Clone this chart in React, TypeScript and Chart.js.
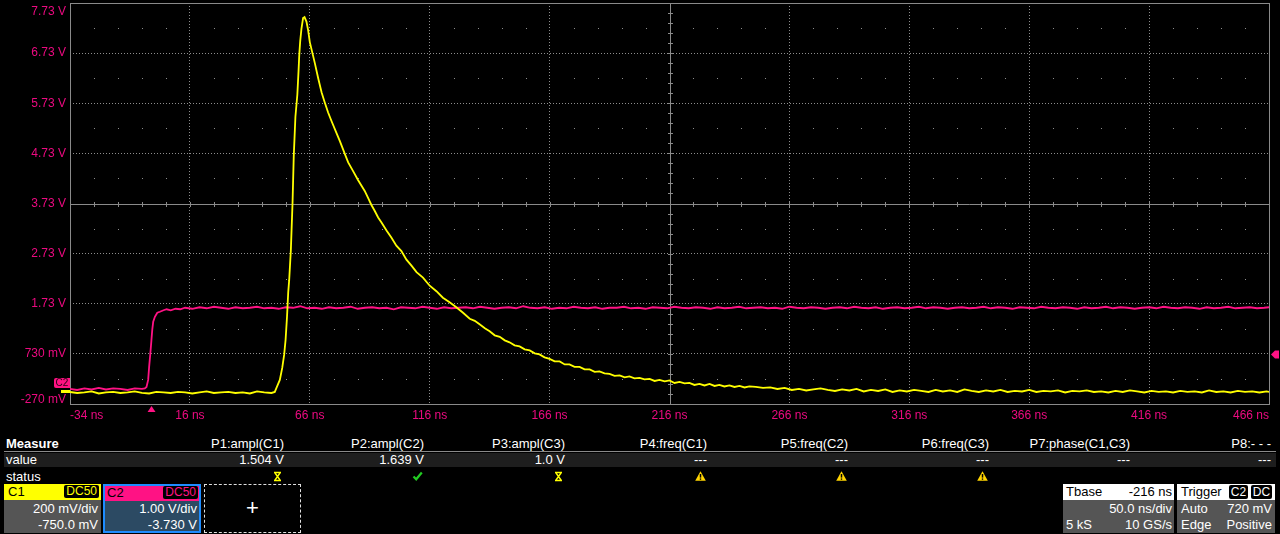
import React, { useEffect, useRef } from 'react';
import { Chart, registerables } from 'chart.js';

Chart.register(...registerables);

// ---------------- data ----------------
const xTickValues = [-34, 16, 66, 116, 166, 216, 266, 316, 366, 416, 466];
const xTickLabels = ['-34 ns', '16 ns', '66 ns', '116 ns', '166 ns', '216 ns', '266 ns', '316 ns', '366 ns', '416 ns', '466 ns'];
const yTickValues = [-0.27, 0.73, 1.73, 2.73, 3.73, 4.73, 5.73, 6.73, 7.73];
const yTickLabels = ['-270 mV', '730 mV', '1.73 V', '2.73 V', '3.73 V', '4.73 V', '5.73 V', '6.73 V', '7.73 V'];

const TRIGGER_TIME = 0; // ns
const TRIGGER_LEVEL = 0.72; // V
const C1_GROUND = -0.02;
const C2_GROUND = 0;

// C1 (yellow) samples: [time ns, volts on displayed scale]
const c1Samples: [number, number][] = [
  [-34, -0.03], [-31, -0.05], [-28, -0.04], [-25, -0.02], [-22, -0.06], [-19, -0.04], [-16, -0.03], [-13, -0.05],
  [-10, -0.04], [-7, -0.02], [-4, -0.05], [-1, -0.06], [2, -0.03], [5, -0.04], [8, -0.05], [11, -0.03], [14, -0.04],
  [17, -0.06], [20, -0.04], [23, -0.02], [26, -0.05], [29, -0.04], [32, -0.03], [35, -0.05], [38, -0.04], [41, -0.06],
  [44, -0.02], [47, -0.04], [50, -0.05],
  [51.4, -0.03], [52.1, 0.05], [53.5, 0.21], [54.5, 0.45], [55.3, 0.71], [55.9, 1.01], [56.5, 1.47], [57.0, 1.96],
  [57.4, 2.2], [58.1, 2.8], [58.8, 3.74], [59.3, 4.66], [60.0, 5.46], [60.8, 5.9], [61.3, 6.37], [61.6, 6.69],
  [62.0, 6.97], [62.5, 7.21], [63.2, 7.43], [63.8, 7.45], [64.6, 7.36], [65.3, 7.19], [66.0, 6.95], [67.1, 6.73],
  [68.1, 6.53], [69.5, 6.23], [70.9, 5.95], [72.0, 5.78], [73.6, 5.55], [75.0, 5.38], [77.1, 5.14], [78.5, 4.98],
  [80.6, 4.72], [82.0, 4.55], [84.0, 4.38], [86.1, 4.2], [87.5, 4.09], [88.9, 3.98], [90.3, 3.84], [91.7, 3.7],
  [93.1, 3.58], [94.5, 3.45], [95.9, 3.35], [98.0, 3.19], [100.0, 3.05], [102.1, 2.89], [104.2, 2.78], [106.3, 2.61],
  [108.4, 2.49], [110.5, 2.36], [113.2, 2.25], [116.0, 2.09], [118.8, 1.98], [121.5, 1.85], [124.3, 1.76], [127.1, 1.66],
  [129.9, 1.55], [132.7, 1.43], [134.8, 1.39], [136.8, 1.32], [139, 1.24], [141.0, 1.18], [143.1, 1.1], [145.2, 1.07],
  [147.3, 1.0], [149.3, 0.96], [151.4, 0.9], [153.5, 0.88], [155.6, 0.82], [157.7, 0.8], [159.8, 0.74], [161.8, 0.72],
  [163.9, 0.66], [166.0, 0.63], [168.1, 0.58], [170.2, 0.58], [172.3, 0.52], [174.3, 0.52], [176.4, 0.47], [178.5, 0.47],
  [180.6, 0.42], [182.7, 0.42], [184.8, 0.37], [186.8, 0.38], [188.9, 0.34], [191.0, 0.33], [193.1, 0.29], [195.2, 0.3],
  [197.3, 0.26], [199.3, 0.28], [201.4, 0.24], [203.5, 0.25], [205.6, 0.22], [207.7, 0.23], [209.8, 0.19], [211.8, 0.21],
  [214, 0.18], [216.0, 0.2], [218.1, 0.15], [220.2, 0.17], [222.3, 0.14], [224.3, 0.15], [226.4, 0.11], [228.5, 0.13],
  [230.6, 0.1], [232.7, 0.13], [234.8, 0.09], [236.8, 0.11], [238.9, 0.08], [241.0, 0.1], [243.1, 0.07], [245.2, 0.09],
  [247.3, 0.06], [249.3, 0.08],
  [252, 0.07], [255, 0.05], [258, 0.06], [261, 0.03], [264, 0.05], [267, 0.01], [270, 0.03], [273, 0.0], [276, 0.02],
  [279, 0.04], [282, 0.01], [285, -0.01], [288, 0.02], [291, 0.0], [294, 0.03], [297, -0.02], [300, 0.01], [303, -0.01],
  [306, 0.02], [309, -0.03], [312, 0.0], [315, -0.02], [318, 0.01], [321, -0.01], [324, -0.03], [327, 0.01], [330, -0.02],
  [333, 0.0], [336, -0.03], [339, 0.02], [342, -0.01], [345, -0.03], [348, 0.0], [351, -0.02], [354, 0.01], [357, -0.03],
  [360, -0.01], [363, -0.02], [366, 0.01], [369, -0.03], [372, -0.01], [375, -0.02], [378, 0.0], [381, -0.04], [384, -0.01],
  [387, -0.02], [390, 0.0], [393, -0.03], [396, -0.02], [399, -0.04], [402, -0.01], [405, -0.03], [408, 0.0], [411, -0.02],
  [414, -0.04], [417, -0.01], [420, -0.03], [423, -0.02], [426, -0.04], [429, -0.01], [432, -0.03], [435, -0.02],
  [438, -0.04], [441, 0.0], [444, -0.03], [447, -0.02], [450, -0.04], [453, -0.01], [456, -0.03], [459, -0.02],
  [462, -0.04], [465, -0.02], [466, -0.03],
];

// C2 (magenta) samples: [time ns, volts]
const c2Samples: [number, number][] = [
  [-34, 0.03], [-31, 0.01], [-28, 0.04], [-25, 0.02], [-22, 0.05], [-19, 0.02], [-16, 0.04], [-13, 0.03], [-10, 0.01],
  [-7, 0.04], [-4, 0.03],
  [-2.8, 0.04], [-2.1, 0.07], [-1.4, 0.21], [-1.0, 0.47], [-0.55, 0.71], [-0.1, 0.97], [0.3, 1.21], [0.7, 1.37],
  [1.4, 1.47], [2.4, 1.55], [3.5, 1.57], [5, 1.6], [6.3, 1.62], [8, 1.6], [10, 1.63], [12, 1.62],
  [14, 1.65], [17, 1.63], [20, 1.66], [23, 1.64], [26, 1.67], [29, 1.65], [32, 1.63], [35, 1.66], [38, 1.64], [41, 1.65],
  [44, 1.67], [47, 1.64], [50, 1.65], [53, 1.63], [56, 1.66], [59, 1.65], [62, 1.68], [65, 1.64], [68, 1.65], [71, 1.63],
  [74, 1.66], [77, 1.64], [80, 1.65], [83, 1.67], [86, 1.63], [89, 1.65], [92, 1.66], [95, 1.64], [98, 1.65], [101, 1.62],
  [104, 1.66], [107, 1.65], [110, 1.64], [113, 1.67], [116, 1.65], [119, 1.63], [122, 1.66], [125, 1.64], [128, 1.65], [131, 1.66],
  [134, 1.64], [137, 1.67], [140, 1.65], [143, 1.63], [146, 1.65], [149, 1.66], [152, 1.64], [155, 1.68], [158, 1.65], [161, 1.64],
  [164, 1.66], [167, 1.63], [170, 1.65], [173, 1.64], [176, 1.67], [179, 1.65], [182, 1.64], [185, 1.66], [188, 1.63], [191, 1.65],
  [194, 1.65], [197, 1.67], [200, 1.64], [203, 1.65], [206, 1.63], [209, 1.66], [212, 1.65], [215, 1.64], [218, 1.67], [221, 1.65],
  [224, 1.64], [227, 1.66], [230, 1.65], [233, 1.63], [236, 1.66], [239, 1.64], [242, 1.65], [245, 1.67], [248, 1.64], [251, 1.65],
  [254, 1.66], [257, 1.64], [260, 1.65], [263, 1.63], [266, 1.67], [269, 1.65], [272, 1.64], [275, 1.66], [278, 1.65], [281, 1.63],
  [284, 1.65], [287, 1.66], [290, 1.64], [293, 1.67], [296, 1.65], [299, 1.64], [302, 1.66], [305, 1.63], [308, 1.65], [311, 1.66],
  [314, 1.64], [317, 1.65], [320, 1.67], [323, 1.64], [326, 1.66], [329, 1.65], [332, 1.63], [335, 1.65], [338, 1.66], [341, 1.64],
  [344, 1.65], [347, 1.67], [350, 1.64], [353, 1.66], [356, 1.65], [359, 1.63], [362, 1.66], [365, 1.65], [368, 1.64], [371, 1.67],
  [374, 1.65], [377, 1.64], [380, 1.66], [383, 1.65], [386, 1.63], [389, 1.66], [392, 1.64], [395, 1.65], [398, 1.67], [401, 1.64],
  [404, 1.66], [407, 1.65], [410, 1.63], [413, 1.65], [416, 1.66], [419, 1.64], [422, 1.67], [425, 1.65], [428, 1.64], [431, 1.66],
  [434, 1.65], [437, 1.63], [440, 1.66], [443, 1.64], [446, 1.65], [449, 1.67], [452, 1.64], [455, 1.65], [458, 1.66], [461, 1.64],
  [464, 1.65], [466, 1.66],
];

// measurement panel texts
const measureHeaders = ['P1:ampl(C1)', 'P2:ampl(C2)', 'P3:ampl(C3)', 'P4:freq(C1)', 'P5:freq(C2)', 'P6:freq(C3)', 'P7:phase(C1,C3)', 'P8:- - -'];
const measureValues = ['1.504 V', '1.639 V', '1.0 V', '---', '---', '---', '---', '---'];
const measureStatus = ['busy', 'ok', 'busy', 'warn', 'warn', 'warn', '', ''];

// ---------------- styles / layout ----------------
const FONT = '"Liberation Sans", Arial, Helvetica, sans-serif';
const C1_COLOR = '#ffff00';
const C2_COLOR = '#ff1284';
const LABEL_COLOR = '#ec0a80';
const GRID_COLOR = '#8e8e8e';
const AXIS_COLOR = '#8a8a8a';
const PANEL_GRAY = '#555555';
const COL_RIGHT = [284, 424, 565, 707, 848, 989, 1130, 1271];

function subdivide(values: number[], parts: number): number[] {
  const out: number[] = [];
  for (let i = 0; i < values.length - 1; i++) {
    const a = values[i];
    const b = values[i + 1];
    for (let k = 1; k < parts; k++) out.push(a + ((b - a) * k) / parts);
  }
  return out;
}

const scopePlugin = {
  id: 'scopeOverlay',
  beforeDatasetsDraw(chart: any) {
    const { ctx, chartArea: a, scales } = chart;
    const xs = scales.x;
    const ys = scales.y;
    ctx.save();
    const minorX = subdivide(xTickValues, 5);
    const halfY = subdivide(yTickValues, 2);
    ctx.fillStyle = GRID_COLOR;
    for (const v of halfY) {
      const py = Math.round(ys.getPixelForValue(v));
      for (const t of minorX) ctx.fillRect(Math.round(xs.getPixelForValue(t)), py, 1, 1);
    }
    const cx = Math.round(xs.getPixelForValue(xTickValues[5])) + 0.5;
    const cy = Math.round(ys.getPixelForValue(yTickValues[4])) + 0.5;
    ctx.strokeStyle = AXIS_COLOR;
    ctx.lineWidth = 1;
    ctx.beginPath();
    ctx.moveTo(a.left, cy);
    ctx.lineTo(a.right, cy);
    ctx.moveTo(cx, a.top);
    ctx.lineTo(cx, a.bottom);
    for (const t of minorX.concat(xTickValues)) {
      const px = Math.round(xs.getPixelForValue(t)) + 0.5;
      ctx.moveTo(px, cy - 2.5);
      ctx.lineTo(px, cy + 2.5);
    }
    for (const v of subdivide(yTickValues, 5).concat(yTickValues)) {
      const py = Math.round(ys.getPixelForValue(v)) + 0.5;
      ctx.moveTo(cx - 2.5, py);
      ctx.lineTo(cx + 2.5, py);
    }
    ctx.stroke();
    ctx.strokeRect(a.left + 0.5, a.top + 0.5, a.right - a.left, a.bottom - a.top);
    ctx.restore();
  },
  afterDraw(chart: any) {
    const { ctx, chartArea: a, scales } = chart;
    const xs = scales.x;
    const ys = scales.y;
    ctx.save();
    // trigger time marker
    const tx = xs.getPixelForValue(TRIGGER_TIME);
    ctx.fillStyle = C2_COLOR;
    ctx.beginPath();
    ctx.moveTo(tx, a.bottom + 2);
    ctx.lineTo(tx + 4, a.bottom + 8);
    ctx.lineTo(tx - 4, a.bottom + 8);
    ctx.closePath();
    ctx.fill();
    // trigger level marker
    const ty = ys.getPixelForValue(TRIGGER_LEVEL);
    ctx.beginPath();
    ctx.moveTo(a.right + 2, ty);
    ctx.lineTo(a.right + 6, ty - 4);
    ctx.lineTo(a.right + 10, ty - 4);
    ctx.lineTo(a.right + 10, ty + 4);
    ctx.lineTo(a.right + 6, ty + 4);
    ctx.closePath();
    ctx.fill();
    // C1 ground marker (mostly hidden)
    const g1 = ys.getPixelForValue(C1_GROUND);
    ctx.fillStyle = C1_COLOR;
    ctx.fillRect(a.left - 9, Math.round(g1) - 1, 9, 3);
    // C2 ground marker
    const g2 = ys.getPixelForValue(C2_GROUND);
    const bx = a.left - 16;
    const by = Math.round(g2 - 12.5);
    ctx.fillStyle = C2_COLOR;
    ctx.beginPath();
    ctx.moveTo(bx + 2, by);
    ctx.lineTo(a.left, by);
    ctx.lineTo(a.left, by + 10);
    ctx.lineTo(bx + 2, by + 10);
    ctx.quadraticCurveTo(bx, by + 10, bx, by + 8);
    ctx.lineTo(bx, by + 2);
    ctx.quadraticCurveTo(bx, by, bx + 2, by);
    ctx.fill();
    ctx.fillStyle = '#2a0014';
    ctx.font = `10px ${FONT}`;
    ctx.textAlign = 'center';
    ctx.textBaseline = 'middle';
    ctx.fillText('C2', bx + 8, by + 5.5);
    ctx.restore();
  },
};

function StatusIcon({ kind }: { kind: string }) {
  if (kind === 'busy') {
    return (
      <svg width={11} height={11} viewBox="0 0 11 11">
        <path d="M2 1.5H9M2 9.5H9M3 2L8 9M8 2L3 9" stroke={C1_COLOR} strokeWidth={1.4} fill="none" />
      </svg>
    );
  }
  if (kind === 'ok') {
    return (
      <svg width={11} height={10} viewBox="0 0 11 10">
        <path d="M1.5 5.5L4.2 8.3L9.8 1.5" stroke="#22cc22" strokeWidth={2.2} fill="none" />
      </svg>
    );
  }
  if (kind === 'warn') {
    return (
      <svg width={11} height={10} viewBox="0 0 11 10">
        <path d="M5.5 0.3L10.8 9.7H0.2Z" fill="#ffd400" />
        <path d="M5.5 3V6.6" stroke="#000" strokeWidth={1.5} />
        <rect x={4.8} y={7.4} width={1.4} height={1.4} fill="#000" />
      </svg>
    );
  }
  return null;
}

const abs = (s: React.CSSProperties): React.CSSProperties => ({ position: 'absolute', whiteSpace: 'nowrap', ...s });

export default function App() {
  const canvasRef = useRef<HTMLCanvasElement | null>(null);

  useEffect(() => {
    document.body.style.margin = '0';
    document.body.style.background = '#000';
    const canvas = canvasRef.current;
    if (!canvas) return;
    const lastX = xTickValues.length - 1;
    const lastY = yTickValues.length - 1;
    const chart = new Chart(canvas, {
      type: 'line',
      data: {
        datasets: [
          {
            label: 'C1',
            data: c1Samples.map(([t, v]) => ({ x: t, y: v })),
            borderColor: C1_COLOR,
            borderWidth: 1.8,
            pointRadius: 0,
            tension: 0,
            fill: false,
          },
          {
            label: 'C2',
            data: c2Samples.map(([t, v]) => ({ x: t, y: v })),
            borderColor: C2_COLOR,
            borderWidth: 1.8,
            pointRadius: 0,
            tension: 0,
            fill: false,
          },
        ],
      },
      options: {
        animation: false,
        responsive: true,
        maintainAspectRatio: false,
        devicePixelRatio: 1,
        events: [],
        layout: { padding: { top: 3, right: 11, bottom: 0, left: 0 } },
        plugins: { legend: { display: false }, tooltip: { enabled: false } },
        scales: {
          x: {
            type: 'linear',
            min: xTickValues[0],
            max: xTickValues[lastX],
            afterBuildTicks: (s: any) => {
              s.ticks = xTickValues.map((v) => ({ value: v }));
            },
            afterFit: (s: any) => {
              s.height = 26;
              s.paddingLeft = 0;
              s.paddingRight = 0;
            },
            grid: {
              color: (c: any) => (c.index === 0 || c.index === lastX || c.index === 5 ? 'rgba(0,0,0,0)' : GRID_COLOR),
              lineWidth: 1,
              drawTicks: false,
            },
            border: { display: false, dash: [1, 2] },
            ticks: {
              align: 'inner',
              autoSkip: false,
              maxRotation: 0,
              padding: 4,
              color: LABEL_COLOR,
              font: { family: FONT, size: 12 },
              callback: (_v: any, i: number) => xTickLabels[i],
            },
          },
          y: {
            type: 'linear',
            min: yTickValues[0],
            max: yTickValues[lastY],
            afterBuildTicks: (s: any) => {
              s.ticks = yTickValues.map((v) => ({ value: v }));
            },
            afterFit: (s: any) => {
              s.width = 70;
              s.paddingTop = 0;
              s.paddingBottom = 0;
            },
            grid: {
              color: (c: any) => (c.index === 0 || c.index === lastY || c.index === 4 ? 'rgba(0,0,0,0)' : GRID_COLOR),
              lineWidth: 1,
              drawTicks: false,
            },
            border: { display: false, dash: [1, 2] },
            ticks: {
              autoSkip: false,
              padding: 4,
              color: LABEL_COLOR,
              font: (c: any) => ({
                family: FONT,
                size: 12,
                lineHeight: c.index === 0 ? '9px' : c.index === lastY ? '17px' : 1.2,
              }),
              callback: (_v: any, i: number) =>
                i === 0 ? [yTickLabels[i], ''] : i === lastY ? ['', yTickLabels[i]] : yTickLabels[i],
            },
          },
        },
      },
      plugins: [scopePlugin],
    } as any);
    return () => chart.destroy();
  }, []);

  const txt: React.CSSProperties = { color: '#ffffff', fontSize: 13, fontFamily: FONT };

  return (
    <div style={{ position: 'fixed', left: 0, top: 0, width: 1280, height: 534, background: '#000', overflow: 'hidden', fontFamily: FONT }}>
      <div style={{ position: 'absolute', left: 0, top: 0, width: 1280, height: 430 }}>
        <canvas ref={canvasRef} />
      </div>

      {/* measurement table */}
      <div style={abs({ ...txt, left: 6, top: 437, lineHeight: '14px', fontWeight: 'bold' })}>Measure</div>
      {measureHeaders.map((h, i) => (
        <div key={h} style={abs({ ...txt, right: 1280 - COL_RIGHT[i], top: 437, lineHeight: '14px', textAlign: 'right' })}>{h}</div>
      ))}
      <div style={abs({ left: 4, top: 451, width: 1272, height: 1, background: '#8a8a8a' })} />
      <div style={abs({ left: 4, top: 453, width: 1272, height: 14, background: '#1e1e1e' })} />
      <div style={abs({ ...txt, left: 6, top: 453, lineHeight: '14px' })}>value</div>
      {measureValues.map((v, i) => (
        <div key={'v' + i} style={abs({ ...txt, right: 1280 - COL_RIGHT[i], top: 453, lineHeight: '14px', textAlign: 'right' })}>{v}</div>
      ))}
      <div style={abs({ ...txt, left: 6, top: 469, lineHeight: '15px' })}>status</div>
      {measureStatus.map((k, i) =>
        k ? (
          <div key={'s' + i} style={abs({ left: COL_RIGHT[i] - 12, top: 471, width: 11, height: 11, lineHeight: 0 })}>
            <StatusIcon kind={k} />
          </div>
        ) : null
      )}

      {/* C1 channel box */}
      <div style={abs({ left: 4, top: 484, width: 97, height: 49, background: PANEL_GRAY })}>
        <div style={abs({ left: 0, top: 0, width: 97, height: 16, background: C1_COLOR })} />
        <div style={abs({ ...txt, color: '#000', left: 4, top: 0, lineHeight: '16px' })}>C1</div>
        <div style={abs({ ...txt, fontSize: 12, color: C1_COLOR, background: '#000', right: 2, top: 1, height: 13, lineHeight: '13px', padding: '0 2px', borderRadius: 2 })}>DC50</div>
        <div style={abs({ ...txt, right: 3, top: 17, lineHeight: '16px', textAlign: 'right' })}>
          200 mV/div
          <br />
          -750.0 mV
        </div>
      </div>

      {/* C2 channel box */}
      <div style={abs({ left: 103, top: 484, width: 98, height: 49, background: '#2c4a63', border: '2px solid #1e8cff', boxSizing: 'border-box' })}>
        <div style={abs({ left: 0, top: 0, width: 94, height: 15, background: C2_COLOR })} />
        <div style={abs({ ...txt, color: '#000', left: 2, top: -1, lineHeight: '16px' })}>C2</div>
        <div style={abs({ ...txt, fontSize: 12, color: C2_COLOR, background: '#000', right: 1, top: 0, height: 13, lineHeight: '13px', padding: '0 2px', borderRadius: 2 })}>DC50</div>
        <div style={abs({ ...txt, right: 2, top: 15, lineHeight: '16px', textAlign: 'right' })}>
          1.00 V/div
          <br />
          -3.730 V
        </div>
      </div>

      {/* empty add-channel box */}
      <div style={abs({ left: 204, top: 484, width: 97, height: 49, border: '1px dashed #e0e0e0', boxSizing: 'border-box' })}>
        <div style={abs({ ...txt, fontSize: 22, left: 0, width: 95, top: 9, lineHeight: '28px', textAlign: 'center' })}>+</div>
      </div>

      {/* Tbase box */}
      <div style={abs({ left: 1063, top: 484, width: 111, height: 49, background: PANEL_GRAY })}>
        <div style={abs({ left: 0, top: 0, width: 111, height: 16, background: '#ffffff' })} />
        <div style={abs({ ...txt, color: '#000', left: 3, top: 0, lineHeight: '16px' })}>Tbase</div>
        <div style={abs({ ...txt, color: '#000', right: 2, top: 0, lineHeight: '16px' })}>-216 ns</div>
        <div style={abs({ ...txt, right: 2, top: 17, lineHeight: '16px' })}>50.0 ns/div</div>
        <div style={abs({ ...txt, left: 3, top: 33, lineHeight: '16px' })}>5 kS</div>
        <div style={abs({ ...txt, right: 2, top: 33, lineHeight: '16px' })}>10 GS/s</div>
      </div>

      {/* Trigger box */}
      <div style={abs({ left: 1177, top: 484, width: 98, height: 49, background: PANEL_GRAY })}>
        <div style={abs({ left: 0, top: 0, width: 98, height: 16, background: '#ffffff' })} />
        <div style={abs({ ...txt, color: '#000', left: 4, top: 0, lineHeight: '16px' })}>Trigger</div>
        <div style={abs({ ...txt, fontSize: 12, color: '#fff', background: '#000', left: 52, top: 1, width: 19, height: 14, lineHeight: '14px', textAlign: 'center', borderRadius: 2 })}>C2</div>
        <div style={abs({ ...txt, fontSize: 12, color: '#fff', background: '#000', left: 74, top: 1, width: 21, height: 14, lineHeight: '14px', textAlign: 'center', borderRadius: 2 })}>DC</div>
        <div style={abs({ ...txt, left: 4, top: 17, lineHeight: '16px' })}>Auto</div>
        <div style={abs({ ...txt, right: 3, top: 17, lineHeight: '16px' })}>720 mV</div>
        <div style={abs({ ...txt, left: 4, top: 33, lineHeight: '16px' })}>Edge</div>
        <div style={abs({ ...txt, right: 3, top: 33, lineHeight: '16px' })}>Positive</div>
      </div>
    </div>
  );
}
